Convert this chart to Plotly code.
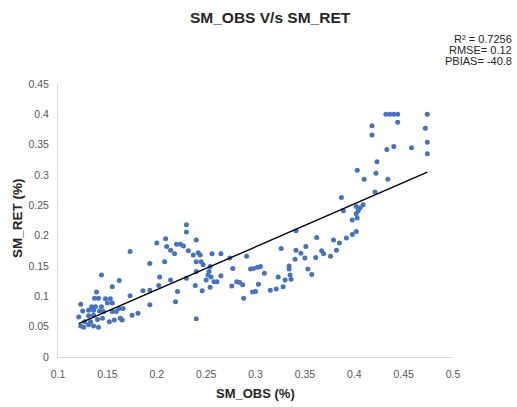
import numpy as np
import plotly.graph_objects as go

# --- data (SM_OBS, SM_RET) ---
sm_obs = [
    0.173, 0.200, 0.209, 0.210, 0.193, 0.208, 0.144, 0.162, 0.155, 0.203,
    0.202, 0.139, 0.186, 0.193, 0.173, 0.137, 0.141, 0.148, 0.153, 0.150,
    0.155, 0.123, 0.134, 0.138, 0.144, 0.193, 0.162, 0.166, 0.131, 0.136,
    0.142, 0.146, 0.125, 0.155, 0.159, 0.175, 0.181, 0.131, 0.136, 0.121,
    0.163, 0.165, 0.140, 0.145, 0.127, 0.133, 0.152, 0.157, 0.123, 0.126,
    0.131, 0.136, 0.141,
    0.230, 0.230, 0.240, 0.214, 0.218, 0.220, 0.224, 0.227, 0.232, 0.237,
    0.242, 0.244, 0.240, 0.245, 0.247, 0.256, 0.265, 0.274, 0.291, 0.254,
    0.253, 0.252, 0.250, 0.255, 0.258, 0.261, 0.265, 0.277, 0.295, 0.298,
    0.302, 0.305, 0.214, 0.230, 0.240, 0.239, 0.254, 0.246, 0.276, 0.281,
    0.284, 0.287, 0.303, 0.297, 0.300, 0.288, 0.221, 0.219, 0.240,
    0.309, 0.323, 0.335, 0.336, 0.330, 0.315, 0.321, 0.328, 0.326, 0.341,
    0.346, 0.340, 0.350, 0.334, 0.334, 0.353, 0.357, 0.341, 0.362, 0.351,
    0.367, 0.369, 0.361, 0.376, 0.382, 0.379, 0.385, 0.392, 0.398, 0.402,
    0.402, 0.406, 0.409, 0.404, 0.402, 0.403, 0.398, 0.389,
    0.387, 0.421, 0.410, 0.434, 0.422, 0.403, 0.423, 0.433, 0.440, 0.458,
    0.474, 0.474, 0.472, 0.418, 0.418, 0.444, 0.432, 0.436, 0.440, 0.444,
    0.474,
]
sm_ret = [
    0.174, 0.188, 0.195, 0.182, 0.154, 0.157, 0.135, 0.126, 0.116, 0.132,
    0.118, 0.107, 0.109, 0.110, 0.101, 0.097, 0.097, 0.096, 0.096, 0.089,
    0.089, 0.087, 0.083, 0.083, 0.083, 0.086, 0.080, 0.080, 0.077, 0.077,
    0.076, 0.075, 0.076, 0.075, 0.075, 0.069, 0.072, 0.068, 0.069, 0.066,
    0.064, 0.061, 0.062, 0.064, 0.058, 0.058, 0.058, 0.061, 0.051, 0.049,
    0.053, 0.051, 0.049,
    0.218, 0.206, 0.193, 0.176, 0.170, 0.186, 0.186, 0.183, 0.175, 0.168,
    0.172, 0.168, 0.157, 0.157, 0.152, 0.170, 0.170, 0.163, 0.166, 0.149,
    0.141, 0.135, 0.127, 0.132, 0.124, 0.124, 0.134, 0.146, 0.145, 0.146,
    0.148, 0.149, 0.127, 0.130, 0.141, 0.118, 0.115, 0.109, 0.117, 0.124,
    0.123, 0.119, 0.120, 0.107, 0.108, 0.097, 0.108, 0.091, 0.063,
    0.138, 0.132, 0.135, 0.128, 0.127, 0.110, 0.112, 0.116, 0.179, 0.176,
    0.171, 0.161, 0.163, 0.150, 0.145, 0.145, 0.136, 0.208, 0.197, 0.182,
    0.175, 0.170, 0.164, 0.166, 0.176, 0.193, 0.188, 0.196, 0.202, 0.207,
    0.248, 0.246, 0.251, 0.241, 0.236, 0.229, 0.226, 0.241,
    0.263, 0.272, 0.293, 0.293, 0.303, 0.308, 0.322, 0.342, 0.347, 0.345,
    0.335, 0.354, 0.377, 0.366, 0.381, 0.387, 0.400, 0.400, 0.400, 0.400,
    0.400,
]

x_ticks = [0.1, 0.15, 0.2, 0.25, 0.3, 0.35, 0.4, 0.45, 0.5]
y_ticks = [0, 0.05, 0.1, 0.15, 0.2, 0.25, 0.3, 0.35, 0.4, 0.45]

title_text = "SM_OBS V/s SM_RET"
x_title = "SM_OBS (%)"
y_title = "SM_RET (%)"
stats_lines = ["R² = 0.7256", "RMSE= 0.12", "PBIAS= -40.8"]

# --- linear trendline (least squares through the points) ---
xa = np.array(sm_obs)
ya = np.array(sm_ret)
slope, intercept = np.polyfit(xa, ya, 1)
trend_x = [float(xa.min()), float(xa.max())]
trend_y = [slope * v + intercept for v in trend_x]

W, H = 517, 407
L, R, T, B = 58, 64, 84, 50
pw, ph = W - L - R, H - T - B


def px(xp):
    return (xp - L) / pw


def py(yp):
    return (H - B - yp) / ph


font_main = "Liberation Sans, Arial, sans-serif"

fig = go.Figure()
fig.add_trace(go.Scatter(
    x=sm_obs, y=sm_ret, mode="markers",
    marker=dict(color="#4472C4", size=5, line=dict(width=0)),
    showlegend=False,
))
fig.add_trace(go.Scatter(
    x=trend_x, y=trend_y, mode="lines",
    line=dict(color="#000000", width=1.4),
    showlegend=False,
))

annotations = [
    dict(text=f"<b>{title_text}</b>", x=px(270), y=py(18), xref="paper", yref="paper",
         showarrow=False, font=dict(size=15.5, color="#262626", family=font_main),
         xanchor="center", yanchor="middle"),
    dict(text=f"<b>{x_title}</b>", x=px(255), y=py(393), xref="paper", yref="paper",
         showarrow=False, font=dict(size=13, color="#262626", family=font_main),
         xanchor="center", yanchor="middle"),
    dict(text=f"<b>{y_title}</b>", x=px(17), y=py(218), xref="paper", yref="paper",
         showarrow=False, textangle=-90, font=dict(size=13.5, color="#262626", family=font_main),
         xanchor="center", yanchor="middle"),
]
for i, line in enumerate(stats_lines):
    annotations.append(dict(
        text=line, x=px(514), y=py(39 + i * 10.8), xref="paper", yref="paper",
        showarrow=False, font=dict(size=11, color="#262626", family=font_main),
        xanchor="right", yanchor="middle",
    ))

fig.update_layout(
    width=W, height=H,
    margin=dict(l=L, r=R, t=T, b=B, pad=0),
    paper_bgcolor="white", plot_bgcolor="white",
    font=dict(family=font_main, color="#595959", size=10.5),
    xaxis=dict(range=[0.1, 0.5], tickvals=x_ticks, ticktext=[f"{v:g}" for v in x_ticks],
               showgrid=False, zeroline=False, showline=True, linecolor="#d9d9d9",
               linewidth=1, ticks="", ticklabelstandoff=7,
               tickfont=dict(size=10.5, color="#595959")),
    yaxis=dict(range=[0, 0.45], tickvals=y_ticks, ticktext=[f"{v:g}" for v in y_ticks],
               showgrid=False, zeroline=False, showline=True, linecolor="#d9d9d9",
               linewidth=1, ticks="", ticklabelstandoff=6,
               tickfont=dict(size=10.5, color="#595959")),
    annotations=annotations,
)

fig.write_html("out.html", config={"displayModeBar": False},
               post_script="document.body.style.margin='0';")
